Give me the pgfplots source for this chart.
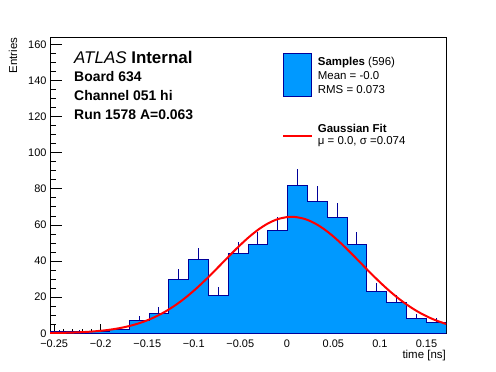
\documentclass[border=0pt]{standalone}
\usepackage{fontspec}
\setmainfont{Liberation Sans}
\usepackage{pgfplots}
\pgfplotsset{compat=1.18}
\definecolor{histfill}{RGB}{0,153,255}
\definecolor{histline}{RGB}{0,0,153}
\begin{document}
\begin{tikzpicture}
\path[use as bounding box] (-50bp,-38.7bp) rectangle (446bp,333.3bp);
\begin{axis}[
  name=ax,
  at={(0,0)}, anchor=south west,
  scale only axis,
  width=396bp, height=295.6bp,
  xmin=-0.2545, xmax=0.171,
  ymin=0, ymax=163.7,
  axis line style={line width=0.8bp},
  tick style={line width=0.8bp, black},
  tick align=inside,
  xtick pos=bottom, ytick pos=left,
  xtick={-0.25,-0.2,-0.15,-0.1,-0.05,0,0.05,0.1,0.15},
  xticklabels={−0.25,−0.2,−0.15,−0.1,−0.05,0,0.05,0.1,0.15},
  ytick={0,20,40,60,80,100,120,140,160},
  minor x tick num=4,
  minor y tick num=3,
  major x tick style={/pgfplots/major tick length=8.9bp},
  minor x tick style={/pgfplots/minor tick length=4.5bp},
  major y tick style={/pgfplots/major tick length=11.9bp},
  minor y tick style={/pgfplots/minor tick length=6bp},
  /pgf/number format/assume math mode=true,
  ticklabel style={font=\fontsize{11}{13}\selectfont},
  xticklabel style={yshift=-3bp},
  clip=true,
]
\addplot[const plot, fill=histfill, draw=histline, line width=1bp] coordinates {
(-0.2545,1) (-0.233225,1) (-0.21195,1) (-0.190675,2) (-0.1694,7)
(-0.148125,11) (-0.12685,30) (-0.105575,41) (-0.0843,21) (-0.063025,44)
(-0.04175,49) (-0.020475,57) (0.0008,82) (0.022075,73) (0.04335,64)
(0.064625,49) (0.0859,23) (0.107175,17) (0.12845,8) (0.149725,6)
(0.171,6)} \closedcycle;
\addplot[draw=none, mark=none,
  error bars/.cd, y dir=plus, y explicit, error mark=none,
  error bar style={draw=histline, line width=1bp, solid}] coordinates {
(-0.243863,1) +- (0,1.00)
(-0.222588,1) +- (0,1.00)
(-0.201313,1) +- (0,1.00)
(-0.180038,2) +- (0,1.41)
(-0.158763,7) +- (0,2.65)
(-0.137488,11) +- (0,3.32)
(-0.116213,30) +- (0,5.48)
(-0.094938,41) +- (0,6.40)
(-0.073663,21) +- (0,4.58)
(-0.052388,44) +- (0,6.63)
(-0.031113,49) +- (0,7.00)
(-0.009838,57) +- (0,7.55)
(0.011438,82) +- (0,9.06)
(0.032713,73) +- (0,8.54)
(0.053988,64) +- (0,8.00)
(0.075263,49) +- (0,7.00)
(0.096538,23) +- (0,4.80)
(0.117813,17) +- (0,4.12)
(0.139088,8) +- (0,2.83)
(0.160363,6) +- (0,2.45)
};
\addplot[red, line width=2bp, smooth] coordinates {
(-0.2545,0.138) (-0.25,0.170) (-0.24,0.269) (-0.23,0.416) (-0.22,0.634)
(-0.21,0.947) (-0.20,1.390) (-0.19,2.003) (-0.18,2.834) (-0.17,3.936)
(-0.16,5.370) (-0.15,7.192) (-0.14,9.458) (-0.13,12.214) (-0.12,15.486)
(-0.11,19.282) (-0.10,23.573) (-0.09,28.293) (-0.08,33.348) (-0.07,38.594)
(-0.06,43.855) (-0.05,48.934) (-0.04,53.612) (-0.03,57.674) (-0.02,60.922)
(-0.01,63.189) (0.00,64.353) (0.005,64.5) (0.01,64.353) (0.02,63.189)
(0.03,60.922) (0.04,57.674) (0.05,53.612) (0.06,48.934) (0.07,43.855)
(0.08,38.594) (0.09,33.348) (0.10,28.293) (0.11,23.573) (0.12,19.282)
(0.13,15.486) (0.14,12.214) (0.15,9.458) (0.16,7.192) (0.17,5.370)
(0.171,5.2)};
\end{axis}
% axis titles
\node[anchor=base east, inner sep=0pt, font=\fontsize{11.5}{13}\selectfont]
  at ([shift={(0bp,-25bp)}]ax.south east) {time [ns]};
\node[anchor=base east, rotate=90, inner sep=0pt, font=\fontsize{11.5}{13}\selectfont]
  at ([shift={(-33bp,0bp)}]ax.north west) {Entries};
% left labels
\node[anchor=base west, inner sep=0pt, font=\fontsize{17}{20}\selectfont]
  at ([shift={(24bp,-25.6bp)}]ax.north west) {\textit{ATLAS} \textbf{Internal}};
\node[anchor=base west, inner sep=0pt, font=\fontsize{14}{16}\selectfont\bfseries]
  at ([shift={(24bp,-44.3bp)}]ax.north west) {Board 634};
\node[anchor=base west, inner sep=0pt, font=\fontsize{14}{16}\selectfont\bfseries]
  at ([shift={(24bp,-63bp)}]ax.north west) {Channel 051 hi};
\node[anchor=base west, inner sep=0pt, font=\fontsize{14}{16}\selectfont\bfseries]
  at ([shift={(24bp,-81.5bp)}]ax.north west) {Run 1578 A=0.063};
% legend
\draw[fill=histfill, draw=histline, line width=1bp]
  ([shift={(233.3bp,-15.6bp)}]ax.north west) rectangle ([shift={(261.7bp,-59bp)}]ax.north west);
\draw[red, line width=2bp]
  ([shift={(233.3bp,-98.3bp)}]ax.north west) -- ([shift={(261.7bp,-98.3bp)}]ax.north west);
\node[anchor=base west, inner sep=0pt, font=\fontsize{11.5}{13}\selectfont]
  at ([shift={(267.7bp,-28bp)}]ax.north west) {\textbf{Samples} (596)};
\node[anchor=base west, inner sep=0pt, font=\fontsize{11.5}{13}\selectfont]
  at ([shift={(267.7bp,-41.6bp)}]ax.north west) {Mean = -0.0};
\node[anchor=base west, inner sep=0pt, font=\fontsize{11.5}{13}\selectfont]
  at ([shift={(267.7bp,-55.6bp)}]ax.north west) {RMS = 0.073};
\node[anchor=base west, inner sep=0pt, font=\fontsize{11.5}{13}\selectfont\bfseries]
  at ([shift={(267.7bp,-94.8bp)}]ax.north west) {Gaussian Fit};
\node[anchor=base west, inner sep=0pt, font=\fontsize{11.5}{13}\selectfont]
  at ([shift={(267.7bp,-107.3bp)}]ax.north west) {μ = 0.0, σ =0.074};
\end{tikzpicture}
\end{document}
